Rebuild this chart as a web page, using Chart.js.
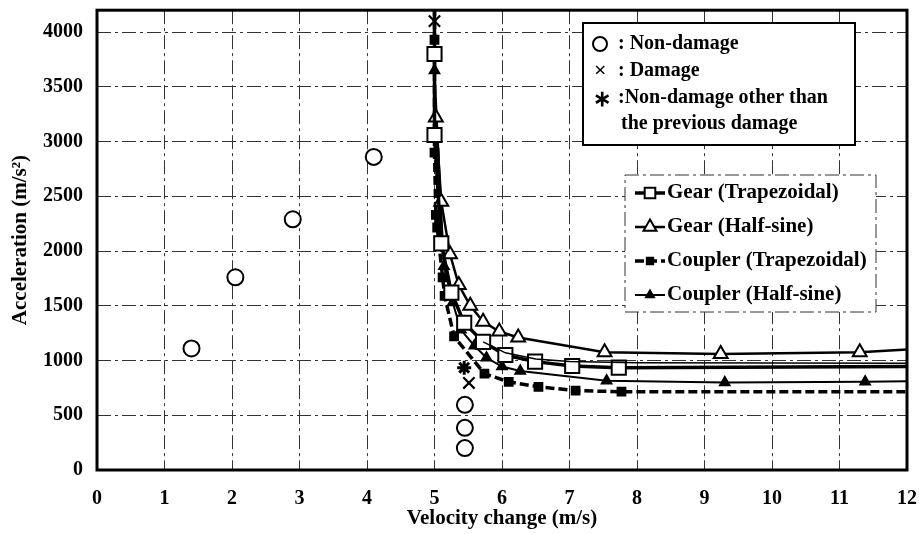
<!DOCTYPE html>
<html>
<head>
<meta charset="utf-8">
<script src="https://cdn.jsdelivr.net/npm/chart.js@4.4.1/dist/chart.umd.min.js"></script>
<style>
html, body { margin: 0; padding: 0; background: #fff; }
#wrap { width: 919px; height: 534px; }
</style>
</head>
<body>
<div id="wrap"><canvas id="accel-chart"></canvas></div>
<script>
// Ensayos individuales
var nonDamage = [{x: 1.4, y: 1110}, {x: 2.05, y: 1760}, {x: 2.9, y: 2290}, {x: 4.1, y: 2860},
                 {x: 5.45, y: 595}, {x: 5.45, y: 385}, {x: 5.45, y: 200}];
var damage = [{x: 5.0, y: 4100}, {x: 5.51, y: 795}];
var nonDamageOther = [{x: 5.44, y: 935}];

// Curvas limite
var gearTrap = [{x: 5.0, y: 4250}, {x: 5.0, y: 3800}, {x: 5.0, y: 3060}, {x: 5.1, y: 2070}, {x: 5.25, y: 1620},
                {x: 5.44, y: 1345}, {x: 5.72, y: 1170}, {x: 6.05, y: 1050}, {x: 6.49, y: 990},
                {x: 7.04, y: 950}, {x: 7.73, y: 935}, {x: 12, y: 945}];
var gearTrapFit = [{x: 5.72, y: 1170}, {x: 6.05, y: 1070}, {x: 6.5, y: 1015}, {x: 7.0, y: 990},
                   {x: 8.0, y: 980}, {x: 12, y: 975}];
var gearHalf = [{x: 5.02, y: 3220}, {x: 5.1, y: 2450}, {x: 5.23, y: 1970}, {x: 5.36, y: 1690},
                {x: 5.53, y: 1500}, {x: 5.72, y: 1355}, {x: 5.96, y: 1265}, {x: 6.24, y: 1210},
                {x: 7.52, y: 1075}, {x: 9.24, y: 1060}, {x: 11.3, y: 1075}, {x: 12, y: 1100}];
var couplerTrap = [{x: 5.0, y: 4230}, {x: 5.0, y: 3930}, {x: 5.0, y: 2900}, {x: 5.02, y: 2330}, {x: 5.04, y: 2215},
                   {x: 5.12, y: 1760}, {x: 5.15, y: 1590}, {x: 5.29, y: 1220}, {x: 5.74, y: 880},
                   {x: 6.1, y: 805}, {x: 6.54, y: 760}, {x: 7.09, y: 725}, {x: 7.77, y: 715}, {x: 12, y: 715}];
var couplerHalf = [{x: 5.0, y: 3650}, {x: 5.14, y: 1860}, {x: 5.27, y: 1530}, {x: 5.39, y: 1280},
                   {x: 5.59, y: 1135}, {x: 5.77, y: 1025}, {x: 6.0, y: 945}, {x: 6.27, y: 905},
                   {x: 7.55, y: 815}, {x: 9.3, y: 800}, {x: 11.38, y: 805}, {x: 12, y: 810}];

var xTicks = [0, 1, 2, 3, 4, 5, 6, 7, 8, 9, 10, 11, 12];
var yTicks = [0, 500, 1000, 1500, 2000, 2500, 3000, 3500, 4000];

var serif = "'Liberation Serif', 'Times New Roman', serif";
var gridDash = [14, 4, 3, 4];

// sin marcador en los extremos de las curvas
function markerSize(r) {
    return function(c) { return (c.raw && (c.raw.x >= 12 || c.raw.y > 4200)) ? 0 : r; };
}

function curve(label, data, style, radius, fill, width, dash) {
    return {
        label: label, data: data, showLine: true,
        borderColor: '#000', borderWidth: width, borderDash: dash || [],
        pointStyle: style, pointRadius: markerSize(radius),
        pointBackgroundColor: fill, pointBorderColor: '#000', pointBorderWidth: 2,
        tension: 0
    };
}

var legendPlugin = {
    id: 'legendBoxes',
    afterDraw: function(chart) {
        var ctx = chart.ctx;
        var a = chart.chartArea;
        ctx.save();
        // marco del grafico
        ctx.strokeStyle = '#000';
        ctx.lineWidth = 3;
        ctx.strokeRect(a.left, a.top, a.right - a.left, a.bottom - a.top);

        // cuadro de simbolos
        ctx.fillStyle = '#fff';
        ctx.fillRect(583, 23, 272, 122);
        ctx.lineWidth = 2;
        ctx.strokeRect(583, 23, 272, 122);
        ctx.fillStyle = '#000';
        ctx.font = 'bold 20px ' + serif;
        ctx.textBaseline = 'middle';
        ctx.textAlign = 'left';
        ctx.lineWidth = 2;
        ctx.beginPath(); ctx.arc(600, 44, 7, 0, Math.PI * 2); ctx.stroke();
        ctx.fillText(': Non-damage', 618, 44);
        ctx.font = 'bold 22px ' + serif;
        ctx.fillText('\u00d7', 594, 71);
        ctx.fillText('\u2217', 593, 100);
        ctx.font = 'bold 20px ' + serif;
        ctx.fillText(': Damage', 618, 71);
        ctx.fillText(':Non-damage other than', 618, 98);
        ctx.fillText('the previous damage', 621, 124);

        // cuadro de series
        ctx.fillStyle = '#fff';
        ctx.fillRect(625, 175, 251, 137);
        ctx.strokeStyle = '#333';
        ctx.lineWidth = 1;
        ctx.setLineDash(gridDash);
        ctx.strokeRect(625, 175, 251, 137);
        ctx.setLineDash([]);
        var rows = [193, 227, 261, 295];
        chart.data.datasets.filter(function(ds) { return ds.inLegend; }).forEach(function(ds, i) {
            var y = rows[i];
            ctx.strokeStyle = '#000';
            ctx.lineWidth = ds.borderWidth;
            ctx.setLineDash(ds.borderDash);
            ctx.beginPath(); ctx.moveTo(635, y); ctx.lineTo(665, y); ctx.stroke();
            ctx.setLineDash([]);
            ctx.lineWidth = 2;
            ctx.fillStyle = ds.pointBackgroundColor;
            Chart.helpers.drawPoint(ctx, {
                pointStyle: ds.pointStyle, radius: ds.label.indexOf('Gear') === 0 ? 7.5 : 4.5,
                rotation: 0, borderWidth: 2
            }, 650, y);
            ctx.fillStyle = '#000';
            ctx.font = 'bold 21px ' + serif;
            ctx.fillText(ds.label, 667, y);
        });
        ctx.restore();
    }
};

var gtDs = curve('Gear (Trapezoidal)', gearTrap, 'rect', 10, '#fff', 3.5);
var ghDs = curve('Gear (Half-sine)', gearHalf, 'triangle', 8, '#fff', 2.5);
var ctDs = curve('Coupler (Trapezoidal)', couplerTrap, 'rect', 5.5, '#000', 3.5, [9, 4]);
var chDs = curve('Coupler (Half-sine)', couplerHalf, 'triangle', 5.5, '#000', 2);
[gtDs, ghDs, ctDs, chDs].forEach(function(d) { d.inLegend = true; });
var fitDs = curve('Gear (Trapezoidal) fit', gearTrapFit, 'circle', 0, '#000', 1.5);

var ctx = document.getElementById('accel-chart').getContext('2d');
var accelChart = new Chart(ctx, {
    type: 'scatter',
    data: {
        datasets: [{
            label: 'Non-damage', data: nonDamage, pointStyle: 'circle', pointRadius: 8,
            pointBackgroundColor: '#fff', pointBorderColor: '#000', pointBorderWidth: 2
        }, {
            label: 'Damage', data: damage, pointStyle: 'crossRot', pointRadius: 8,
            pointBorderColor: '#000', pointBorderWidth: 2.2
        }, {
            label: 'Non-damage other than the previous damage', data: nonDamageOther, pointStyle: 'star',
            pointRadius: 7, pointBorderColor: '#000', pointBorderWidth: 3
        }, fitDs, gtDs, ghDs, ctDs, chDs]
    },
    options: {
        responsive: true,
        maintainAspectRatio: false,
        animation: false,
        layout: { padding: { top: 10, right: 12, left: 0, bottom: 0 } },
        plugins: { legend: { display: false }, tooltip: { enabled: false } },
        scales: {
            x: {
                type: 'linear', min: 0, max: 12,
                afterBuildTicks: function(s) { s.ticks = xTicks.map(function(v) { return {value: v}; }); },
                afterFit: function(s) { s.height = 64; s.paddingLeft = 0; s.paddingRight = 0; },
                grid: { color: '#333', lineWidth: 1, drawTicks: false },
                border: { display: false, dash: gridDash },
                ticks: {
                    color: '#000', padding: 17, maxRotation: 0,
                    font: { family: serif, size: 20, weight: 'bold' },
                    callback: function(v) { return String(v); }
                },
                title: {
                    display: true, text: 'Velocity change (m/s)', color: '#000',
                    padding: { top: 0, bottom: 3 },
                    font: { family: serif, size: 21, weight: 'bold' }
                }
            },
            y: {
                type: 'linear', min: 0, max: 4200,
                afterBuildTicks: function(s) { s.ticks = yTicks.map(function(v) { return {value: v}; }); },
                afterFit: function(s) { s.width = 97; s.paddingTop = 0; s.paddingBottom = 0; },
                grid: { color: '#333', lineWidth: 1, drawTicks: false },
                border: { display: false, dash: gridDash },
                ticks: {
                    color: '#000', padding: 14,
                    font: { family: serif, size: 20, weight: 'bold' },
                    callback: function(v) { return String(v); }
                },
                title: {
                    display: true, text: 'Acceleration (m/s\u00b2)', color: '#000',
                    padding: { top: 8, bottom: 4 },
                    font: { family: serif, size: 21, weight: 'bold' }
                }
            }
        }
    },
    plugins: [legendPlugin]
});
</script>
</body>
</html>
